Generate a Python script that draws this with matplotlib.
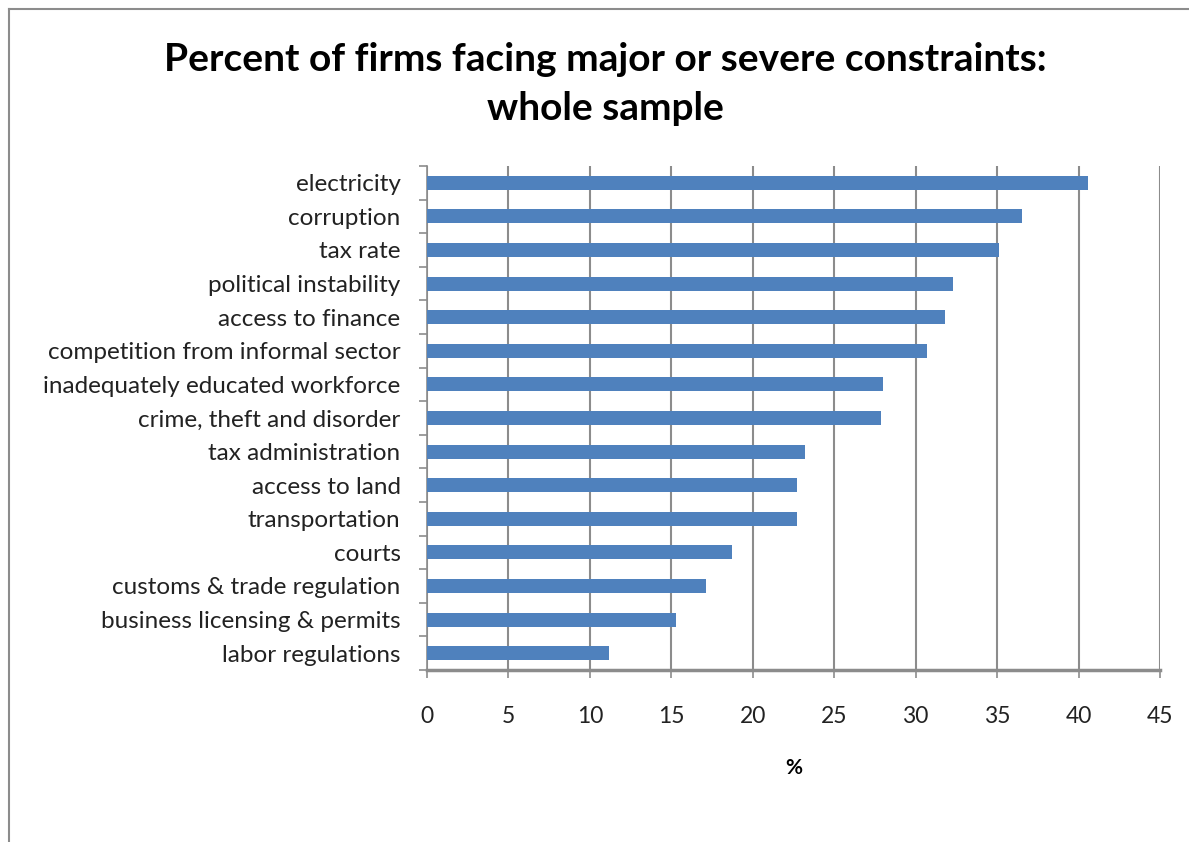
import matplotlib
matplotlib.use('Agg')
import matplotlib.pyplot as plt
from matplotlib.lines import Line2D

# data (top to bottom as in chart)
categories = ['electricity', 'corruption', 'tax rate', 'political instability',
              'access to finance', 'competition from informal sector',
              'inadequately educated workforce', 'crime, theft and disorder',
              'tax administration', 'access to land', 'transportation', 'courts',
              'customs & trade regulation', 'business licensing & permits',
              'labor regulations']
values = [40.55, 36.5, 35.1, 32.3, 31.8, 30.7, 28.0, 27.9,
          23.2, 22.7, 22.7, 18.7, 17.1, 15.3, 11.2]
xticks = [0, 5, 10, 15, 20, 25, 30, 35, 40, 45]

plt.rcParams['font.family'] = ['Lato', 'DejaVu Sans']

W, H = 1189, 842
fig = plt.figure(figsize=(W / 100, H / 100), dpi=100)
fig.patch.set_facecolor('white')

ax = fig.add_axes([427 / W, 1 - 670 / H, (1160 - 427) / W, (670 - 166) / H])

n = len(categories)
ypos = list(range(n))
ax.barh(ypos, values, height=0.42, color='#4F81BD', zorder=3)
ax.set_ylim(n - 0.5, -0.5)
ax.set_xlim(0, 45)

ax.set_xticks(xticks)
ax.set_xticklabels([str(t) for t in xticks], fontsize=16.5, color='#222222')
ax.tick_params(axis='x', length=6, width=1.2, color='#8c8c8c', pad=20)

ax.set_yticks(ypos)
ax.set_yticklabels(categories, fontsize=17.5, color='#222222')
ax.set_yticks([i - 0.5 for i in range(n + 1)], minor=True)
ax.tick_params(axis='y', which='major', length=0, pad=19)
ax.tick_params(axis='y', which='minor', length=6, width=1.2, color='#8c8c8c')

ax.grid(axis='x', color='#8c8c8c', linewidth=1.5, zorder=0)
for s in ['top', 'right']:
    ax.spines[s].set_visible(False)
ax.spines['left'].set_color('#8c8c8c')
ax.spines['left'].set_linewidth(1.2)
ax.spines['bottom'].set_color('#8c8c8c')
ax.spines['bottom'].set_linewidth(2.5)

ax.set_xlabel('%', fontsize=15, fontweight='bold', labelpad=22)

fig.text(605 / W, 1 - 84 / H,
         'Percent of firms facing major or severe constraints:\nwhole sample',
         ha='center', va='center', fontsize=28, fontweight='bold',
         linespacing=1.45, color='black')

# outer chart frame (top and left edges visible)
fig.add_artist(Line2D([9 / W, 9 / W], [0, 1 - 9 / H], transform=fig.transFigure,
                      color='#8c8c8c', linewidth=1.5))
fig.add_artist(Line2D([9 / W, 1], [1 - 9 / H, 1 - 9 / H], transform=fig.transFigure,
                      color='#8c8c8c', linewidth=1.5))

plt.savefig('out.png', dpi=100, facecolor='white')
plt.close()
